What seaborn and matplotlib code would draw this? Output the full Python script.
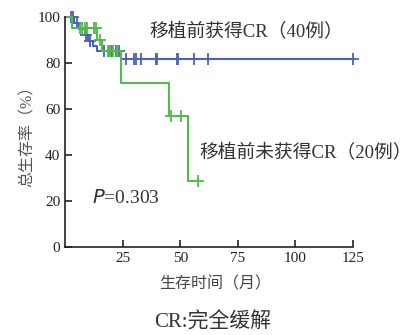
import numpy as np
import pandas as pd
import matplotlib
matplotlib.use("Agg")
import matplotlib.pyplot as plt
import seaborn as sns

# Kaplan-Meier steps (months, survival %)
cr_time = [0, 4, 6, 8.5, 10, 12, 14, 24.5, 125]
cr_surv = [100, 97.4, 94.9, 92.3, 89.7, 87.2, 85.0, 81.6, 81.6]
cr_censor = [2.5, 3.6, 5.0, 9.0, 11.0, 17.0, 19.0, 20.5, 22.0, 23.5,
             26.4, 29.9, 30.8, 32.8, 39.3, 39.9, 48.4, 49.0, 56.0, 62.1, 124.8]

noncr_time = [0, 3, 14, 16, 24.3, 45.2, 53.4, 57.8]
noncr_surv = [100, 95.0, 90.0, 85.0, 71.4, 57.1, 28.6, 28.6]
noncr_censor = [6.5, 7.5, 8.5, 9.5, 12.5, 13.5, 15.0, 18.6, 19.6, 21.0, 22.5,
                45.8, 50.5, 57.8]

blue = "#4a62b0"
green = "#52bb4c"
fam = ["Liberation Serif", "Noto Sans CJK SC"]


def step_value(t, times, surv):
    idx = np.searchsorted(times, t, side="right") - 1
    return surv[idx]


sns.set_theme(style="ticks")
plt.rcParams["font.family"] = fam

fig = plt.figure(figsize=(4.18, 3.35), dpi=100)
ax = fig.add_axes([0.1555, 0.2627, 0.689, 0.6866])

for t, s, c, col in [(cr_time, cr_surv, cr_censor, blue),
                     (noncr_time, noncr_surv, noncr_censor, green)]:
    df = pd.DataFrame({"time": t, "surv": s})
    sns.lineplot(data=df, x="time", y="surv", ax=ax, color=col, lw=1.5,
                 drawstyle="steps-post", estimator=None, sort=False, clip_on=False)
    cdf = pd.DataFrame({"time": c, "surv": [step_value(x, t, s) for x in c]})
    ax.plot(cdf["time"], cdf["surv"], ls="none", marker="+", ms=9, mew=1.3,
            color=col, clip_on=False)

ax.set_xlim(0, 125)
ax.set_ylim(0, 100)
ax.set_xticks([25, 50, 75, 100, 125])
ax.set_yticks([0, 20, 40, 60, 80, 100])
ax.tick_params(direction="in", length=5, width=1.2, labelsize=11, colors="#222222")
for sp in ["left", "bottom"]:
    ax.spines[sp].set_linewidth(1.2)
    ax.spines[sp].set_color("#222222")
sns.despine(ax=ax)

ax.set_xlabel("生存时间（月）", fontsize=11.5, color="#444444")
ax.xaxis.set_label_coords(0.52, -0.13)
ax.set_ylabel("总生存率（%）", fontsize=11.5, color="#555555")
ax.yaxis.set_label_coords(-0.10, 0.5)

ax.text(36.8, 93.6, "移植前获得CR（40例）", fontsize=13.5, color="#333333", va="center")
ax.text(58.5, 40.9, "移植前未获得CR（20例）", fontsize=13.5, color="#333333", va="center")
ax.text(11.6, 21.3, "$P$=0.303", fontsize=14, color="#333333", va="center")

fig.text(0.51, 0.036, "CR:完全缓解", ha="center", va="center", fontsize=15,
         color="#333333")

fig.savefig("out.png", dpi=100)
